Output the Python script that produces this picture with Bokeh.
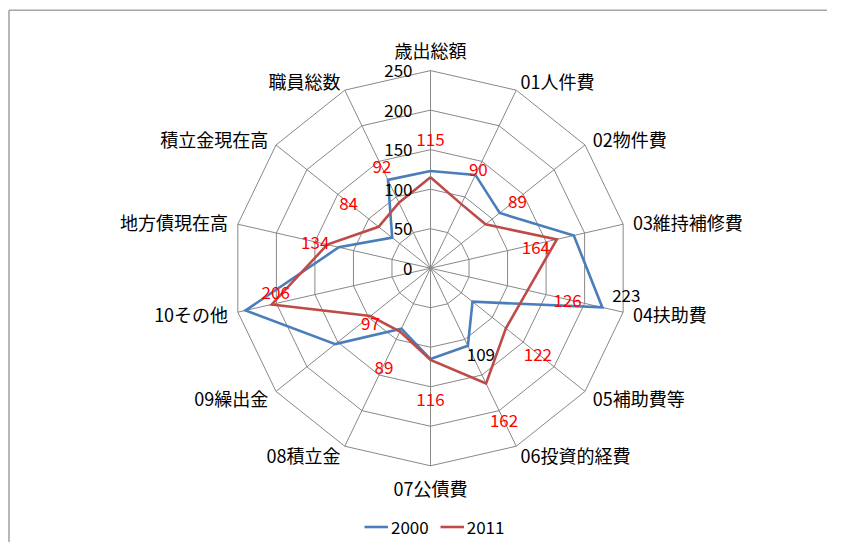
import numpy as np
from bokeh.plotting import figure
from bokeh.models import Range1d, ColumnDataSource, Legend, LegendItem
from bokeh.embed import file_html
from bokeh.resources import INLINE
from bokeh.core.properties import value

# ---------------- data ----------------
categories = ["歳出総額", "01人件費", "02物件費", "03維持補修費", "04扶助費",
              "05補助費等", "06投資的経費", "07公債費", "08積立金", "09繰出金",
              "10その他", "地方債現在高", "積立金現在高", "職員総数"]
values_2000 = [123, 131, 112, 186, 223, 68, 109, 115, 85, 154, 240, 119, 62, 124]
values_2011 = [115, 90, 89, 164, 126, 122, 162, 116, 89, 97, 206, 134, 84, 92]
labels_2000 = ["", "", "", "", "223", "", "109", "", "", "", "", "", "", ""]
labels_2011 = ["115", "90", "89", "164", "126", "122", "162", "116", "89", "97",
               "206", "134", "84", "92"]
ticks = [0, 50, 100, 150, 200, 250]
series_names = ["2000", "2011"]

# ---------------- style ----------------
W, H = 827, 542
CX, CY = 430, 267.7          # centre of the radar in canvas pixels (from left / from top)
R = 197.6                     # radius of the 250 ring, px
VMAX = 250
s = R / VMAX
FONT = "Noto Sans CJK JP"
BLUE = "#4A7EBB"
RED = "#BE4B48"
GRID = "#888888"

# label offsets (screen px) for the data labels
off_2011_x = [0, 17, 32, -21, 40, 32, 18, 0, -16, 0, 4, -12, -30, -17]
off_2011_y = [-38, -35, -23, 8, 10, 26, 37, 40, 36, 7, -12, -2, -23, -36]
off_2000_x = [0, 0, 0, 0, 24, 0, 13, 0, 0, 0, 0, 0, 0, 0]
off_2000_y = [0, 0, 0, 0, -12, 0, 9, 0, 0, 0, 0, 0, 0, 0]

n = len(categories)
theta = np.arange(n) * 2 * np.pi / n      # clockwise from top
ux = np.sin(theta)
uy = np.cos(theta)

p = figure(width=W, height=H, output_backend="svg", toolbar_location=None,
           x_range=Range1d(-CX, W - CX), y_range=Range1d(CY - H, CY),
           min_border=0)
p.axis.visible = False
p.grid.visible = False
p.outline_line_color = None
p.background_fill_color = "white"
p.border_fill_color = "white"

# chart-area border (only top and left are inside the window)
p.line([-CX + 8.5, -CX + 8.5], [CY - H, CY - 9.8], line_color="#A6A6A6", line_width=1.6)
p.line([-CX + 8.5, W - CX], [CY - 9.8, CY - 9.8], line_color="#A6A6A6", line_width=1.6)

# rings
ring_xs, ring_ys = [], []
for t in ticks[1:]:
    ring_xs.append(list(np.append(ux, ux[0]) * t * s))
    ring_ys.append(list(np.append(uy, uy[0]) * t * s))
p.multi_line(ring_xs, ring_ys, line_color=GRID, line_width=1)

# spokes
p.multi_line([[0, x * R] for x in ux], [[0, y * R] for y in uy],
             line_color=GRID, line_width=1)

# series
renderers = []
for vals, col in [(values_2000, BLUE), (values_2011, RED)]:
    v = np.array(vals, dtype=float) * s
    xs = np.append(ux * v, ux[0] * v[0])
    ys = np.append(uy * v, uy[0] * v[0])
    r = p.line(xs, ys, line_color=col, line_width=2.6, line_join="miter")
    renderers.append(r)

# tick labels
p.text(x=[-18] * len(ticks), y=[t * s for t in ticks], text=[str(t) for t in ticks],
       text_align="right", text_baseline="middle", text_font=value(FONT),
       text_font_size="17px", text_color="black")

# category labels
groups = {"left": ([], [], []), "right": ([], [], []), "center": ([], [], [])}
for i, c in enumerate(categories):
    if abs(ux[i]) < 0.1:
        rr = R + (21 if uy[i] > 0 else 22)
        g = "center"
    else:
        rr = R + 10
        g = "left" if ux[i] > 0 else "right"
    groups[g][0].append(ux[i] * rr)
    groups[g][1].append(uy[i] * rr)
    groups[g][2].append(c)
for g, (gx, gy, gt) in groups.items():
    p.text(x=gx, y=gy, text=gt, text_align=g, text_baseline="middle",
           text_font=value(FONT), text_font_size="18px", text_color="black")

# data labels
for vals, labs, ox, oy, col in [(values_2000, labels_2000, off_2000_x, off_2000_y, "black"),
                                (values_2011, labels_2011, off_2011_x, off_2011_y, "#FF0000")]:
    v = np.array(vals, dtype=float) * s
    src = ColumnDataSource(dict(x=ux * v, y=uy * v, t=labs, ox=ox, oy=oy))
    p.text(x="x", y="y", text="t", x_offset="ox", y_offset="oy", source=src,
           text_align="center", text_baseline="middle", text_font=value(FONT),
           text_font_size="17px", text_color=col)

legend = Legend(items=[LegendItem(label=series_names[0], renderers=[renderers[0]]),
                       LegendItem(label=series_names[1], renderers=[renderers[1]])],
                orientation="horizontal", location=(364, 3),
                glyph_width=24, glyph_height=17, label_height=17,
                label_standoff=3, spacing=11, padding=0, margin=0,
                border_line_color=None, background_fill_alpha=0,
                label_text_font=FONT, label_text_font_size="17px",
                label_text_color="black")
p.add_layout(legend)

open("out.html", "w").write(file_html(p, INLINE))
